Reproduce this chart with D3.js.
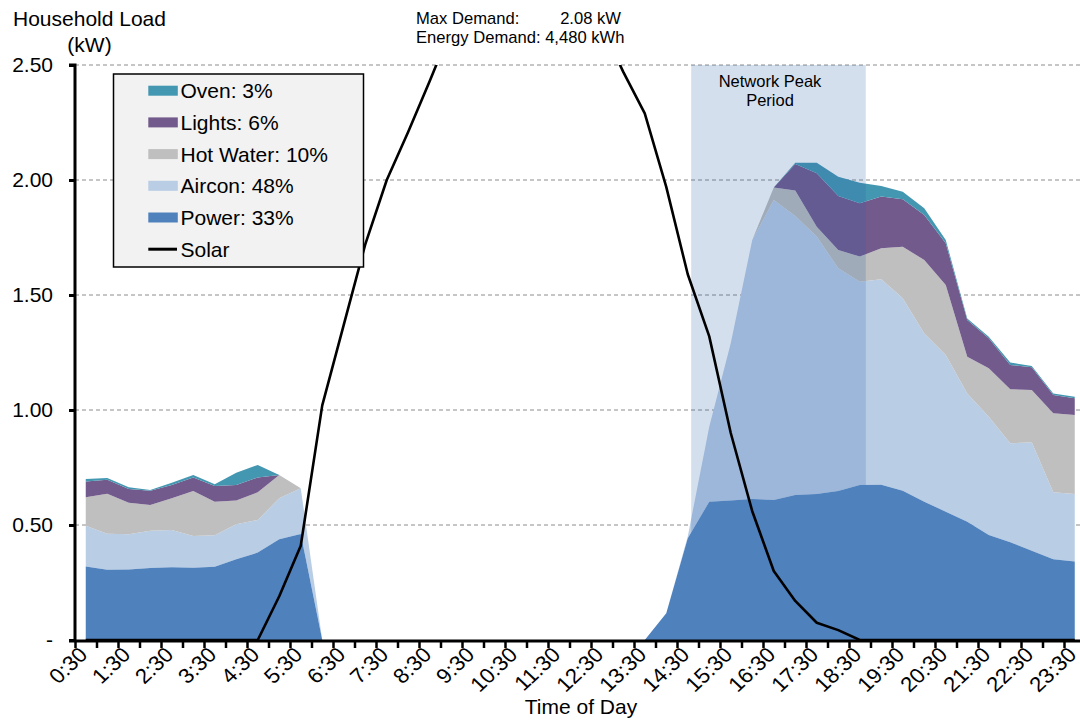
<!DOCTYPE html>
<html>
<head>
<meta charset="utf-8">
<script src="https://cdn.jsdelivr.net/npm/d3@7"></script>
<style>
  html, body { margin: 0; padding: 0; background: #fff; }
  svg { display: block; font-family: "Liberation Sans", Arial, sans-serif; }
</style>
</head>
<body>
<svg id="chart" width="1080" height="722"></svg>
<script>
// ---------- DATA ----------
const timeLabels = ["0:30","1:00","1:30","2:00","2:30","3:00","3:30","4:00","4:30","5:00",
  "5:30","6:00","6:30","7:00","7:30","8:00","8:30","9:00","9:30","10:00",
  "10:30","11:00","11:30","12:00","12:30","13:00","13:30","14:00","14:30","15:00",
  "15:30","16:00","16:30","17:00","17:30","18:00","18:30","19:00","19:30","20:00",
  "20:30","21:00","21:30","22:00","22:30","23:00","23:30","24:00"];

const power = [0.320,0.305,0.307,0.313,0.316,0.314,0.319,0.351,0.380,0.438,
  0.461,0,0,0,0,0,0,0,0,0,
  0,0,0,0,0,0,0,0.116,0.442,0.601,
  0.606,0.613,0.609,0.630,0.635,0.648,0.674,0.675,0.649,0.601,
  0.558,0.514,0.457,0.425,0.388,0.351,0.341];
const aircon = [0.177,0.157,0.153,0.162,0.162,0.138,0.136,0.152,0.142,0.178,
  0.199,0,0,0,0,0,0,0,0,0,
  0,0,0,0,0,0,0,0,0.008,0.326,
  0.684,1.126,1.304,1.213,1.119,0.968,0.884,0.893,0.837,0.732,
  0.681,0.558,0.514,0.430,0.472,0.291,0.294];
const hotWater = [0.124,0.174,0.137,0.112,0.138,0.196,0.146,0.103,0.120,0.101,
  0,0,0,0,0,0,0,0,0,0,
  0,0,0,0,0,0,0,0,0,0,
  0,0,0.054,0.111,0.043,0.080,0.109,0.135,0.224,0.319,
  0.304,0.160,0.210,0.235,0.227,0.344,0.343];
const lights = [0.068,0.061,0.060,0.062,0.058,0.059,0.069,0.068,0.065,0,
  0,0,0,0,0,0,0,0,0,0,
  0,0,0,0,0,0,0,0,0,0,
  0,0,0,0.116,0.232,0.234,0.232,0.225,0.206,0.196,
  0.182,0.159,0.131,0.106,0.099,0.079,0.073];
const oven = [0.011,0.007,0.007,0.003,0.010,0.010,0.007,0.053,0.054,0,
  0,0,0,0,0,0,0,0,0,0,
  0,0,0,0,0,0,0,0,0,0,
  0,0,0,0.005,0.046,0.084,0.089,0.046,0.033,0.029,
  0.014,0.007,0.007,0.010,0.005,0.007,0.007];
const solar = [0,0,0,0,0,0,0,0,0,0.19,
  0.41,1.02,1.37,1.72,2.00,2.21,2.43,2.66,2.88,3.02,
  3.10,3.12,3.06,2.92,2.67,2.47,2.29,1.97,1.59,1.32,
  0.90,0.56,0.30,0.17,0.075,0.043,0,0,0,0,
  0,0,0,0,0,0,0];

const seriesNames = ["Power: 33%","Aircon: 48%","Hot Water: 10%","Lights: 6%","Oven: 3%"];
const seriesKeys = ["power","aircon","hotWater","lights","oven"];
const seriesColors = ["#4f81bd","#b9cde5","#bfbfbf","#725a8c","#4497b1"];
const yTicks = [0,0.5,1.0,1.5,2.0,2.5];
const peakPeriod = [14.58, 18.64]; // hours
const maxDemandText = "2.08 kW";
const energyDemandText = "Energy Demand: 4,480 kWh";

// ---------- LAYOUT ----------
const svg = d3.select("#chart");
const X0 = 75, STEP = 21.5, TOP = 65, BOTTOM = 640, RIGHT = 1080;
const nCat = timeLabels.length;

const xIdx = d3.scaleLinear().domain([0, nCat]).range([X0, X0 + nCat * STEP]);
const xc = i => xIdx(i + 0.5);
const xHour = d3.scaleLinear().domain([0.5, 24]).range([xc(0), xc(nCat - 1)]);
const y = d3.scaleLinear().domain([0, 2.5]).range([BOTTOM, TOP]);

const table = power.map((p, i) => ({
  power: p, aircon: aircon[i], hotWater: hotWater[i], lights: lights[i], oven: oven[i]
}));
const stacked = d3.stack().keys(seriesKeys)(table);

svg.append("defs").append("clipPath").attr("id", "plotClip")
  .append("rect").attr("x", X0).attr("y", TOP).attr("width", RIGHT - X0).attr("height", BOTTOM - TOP);

// gridlines
svg.append("g").selectAll("line").data(yTicks.filter(d => d > 0)).join("line")
  .attr("x1", X0).attr("x2", RIGHT)
  .attr("y1", d => y(d)).attr("y2", d => y(d))
  .attr("stroke", "#8c8c8c").attr("stroke-width", 1).attr("stroke-dasharray", "4,3");

const plot = svg.append("g").attr("clip-path", "url(#plotClip)");
const area = d3.area()
  .x((d, i) => xc(i))
  .y0(d => y(d[0]))
  .y1(d => y(d[1]));

// upper layers (aircon .. oven)
plot.selectAll("path.layer").data(stacked.slice(1)).join("path")
  .attr("class", "layer")
  .attr("d", area)
  .attr("fill", (d, i) => seriesColors[i + 1]);

// network peak period shading
plot.append("rect")
  .attr("x", xHour(peakPeriod[0])).attr("width", xHour(peakPeriod[1]) - xHour(peakPeriod[0]))
  .attr("y", TOP).attr("height", BOTTOM - TOP)
  .attr("fill", "rgb(40,95,170)").attr("fill-opacity", 0.2);

// power layer
plot.append("path").datum(stacked[0]).attr("d", area).attr("fill", seriesColors[0]);

// solar line
plot.append("path").datum(solar)
  .attr("d", d3.line().x((d, i) => xc(i)).y(d => y(d)))
  .attr("fill", "none").attr("stroke", "#000").attr("stroke-width", 2.6)
  .attr("stroke-linejoin", "round");

// peak text
svg.append("text").attr("x", 770).attr("y", 87).attr("text-anchor", "middle")
  .attr("font-size", 16.5).text("Network Peak");
svg.append("text").attr("x", 770).attr("y", 106).attr("text-anchor", "middle")
  .attr("font-size", 16.5).text("Period");

// Y axis
const yAxis = d3.axisLeft(y).tickValues(yTicks)
  .tickFormat(d => d === 0 ? "-" : d3.format(".2f")(d))
  .tickSize(6).tickPadding(16);
const gy = svg.append("g").attr("transform", `translate(${X0},0)`).call(yAxis);
gy.select(".domain").attr("stroke", "#000").attr("stroke-width", 3)
  .attr("d", `M-6,${TOP}H0V${BOTTOM + 2}`);
gy.selectAll(".tick line").attr("stroke", "#000").attr("stroke-width", 3);
gy.selectAll(".tick text").attr("font-size", 21).attr("fill", "#000")
  .attr("font-family", "Liberation Sans, Arial, sans-serif");

// X axis
const xAxis = d3.axisBottom(xIdx).tickValues(d3.range(0, nCat + 1)).tickFormat("").tickSize(7);
const gx = svg.append("g").attr("transform", `translate(0,${BOTTOM + 1})`).call(xAxis);
gx.select(".domain").attr("stroke", "#000").attr("stroke-width", 3)
  .attr("d", `M${X0 - 6},0H${RIGHT + 40}`);
gx.selectAll(".tick line").attr("stroke", "#000").attr("stroke-width", 2.5);

svg.append("g").selectAll("text").data(timeLabels.filter((d, i) => i % 2 === 0)).join("text")
  .attr("transform", (d, k) => `translate(${xc(k * 2) + 3},${BOTTOM + 16}) scale(1.06,1) rotate(-45)`)
  .attr("text-anchor", "end")
  .attr("font-size", 21)
  .text(d => d);

svg.append("text").attr("x", 581).attr("y", 714).attr("text-anchor", "middle")
  .attr("font-size", 21).text("Time of Day");

// Y title
svg.append("text").attr("x", 89.5).attr("y", 26).attr("text-anchor", "middle")
  .attr("font-size", 21).text("Household Load");
svg.append("text").attr("x", 89.5).attr("y", 52).attr("text-anchor", "middle")
  .attr("font-size", 21).text("(kW)");

// annotations
svg.append("text").attr("x", 416).attr("y", 24).attr("font-size", 16.6).text("Max Demand:");
svg.append("text").attr("x", 621).attr("y", 24).attr("text-anchor", "end").attr("font-size", 16.6).text(maxDemandText);
svg.append("text").attr("x", 416).attr("y", 43).attr("font-size", 16.6).text(energyDemandText);

// legend
const lg = svg.append("g");
lg.append("rect").attr("x", 113.5).attr("y", 74).attr("width", 250).attr("height", 193)
  .attr("fill", "#f2f2f2").attr("stroke", "#000").attr("stroke-width", 1.5);
const legendItems = [
  {name: seriesNames[4], color: seriesColors[4], type: "area"},
  {name: seriesNames[3], color: seriesColors[3], type: "area"},
  {name: seriesNames[2], color: seriesColors[2], type: "area"},
  {name: seriesNames[1], color: seriesColors[1], type: "area"},
  {name: seriesNames[0], color: seriesColors[0], type: "area"},
  {name: "Solar", color: "#000", type: "line"}
];
legendItems.forEach((it, k) => {
  const cy = 90.7 + k * 31.7;
  if (it.type === "area") {
    lg.append("rect").attr("x", 148.3).attr("y", cy - 5).attr("width", 29.5).attr("height", 10).attr("fill", it.color);
  } else {
    lg.append("line").attr("x1", 148.3).attr("x2", 177).attr("y1", cy).attr("y2", cy)
      .attr("stroke", "#000").attr("stroke-width", 3);
  }
  lg.append("text").attr("x", 180.5).attr("y", cy + 7.5).attr("font-size", 21).text(it.name);
});
</script>
</body>
</html>
